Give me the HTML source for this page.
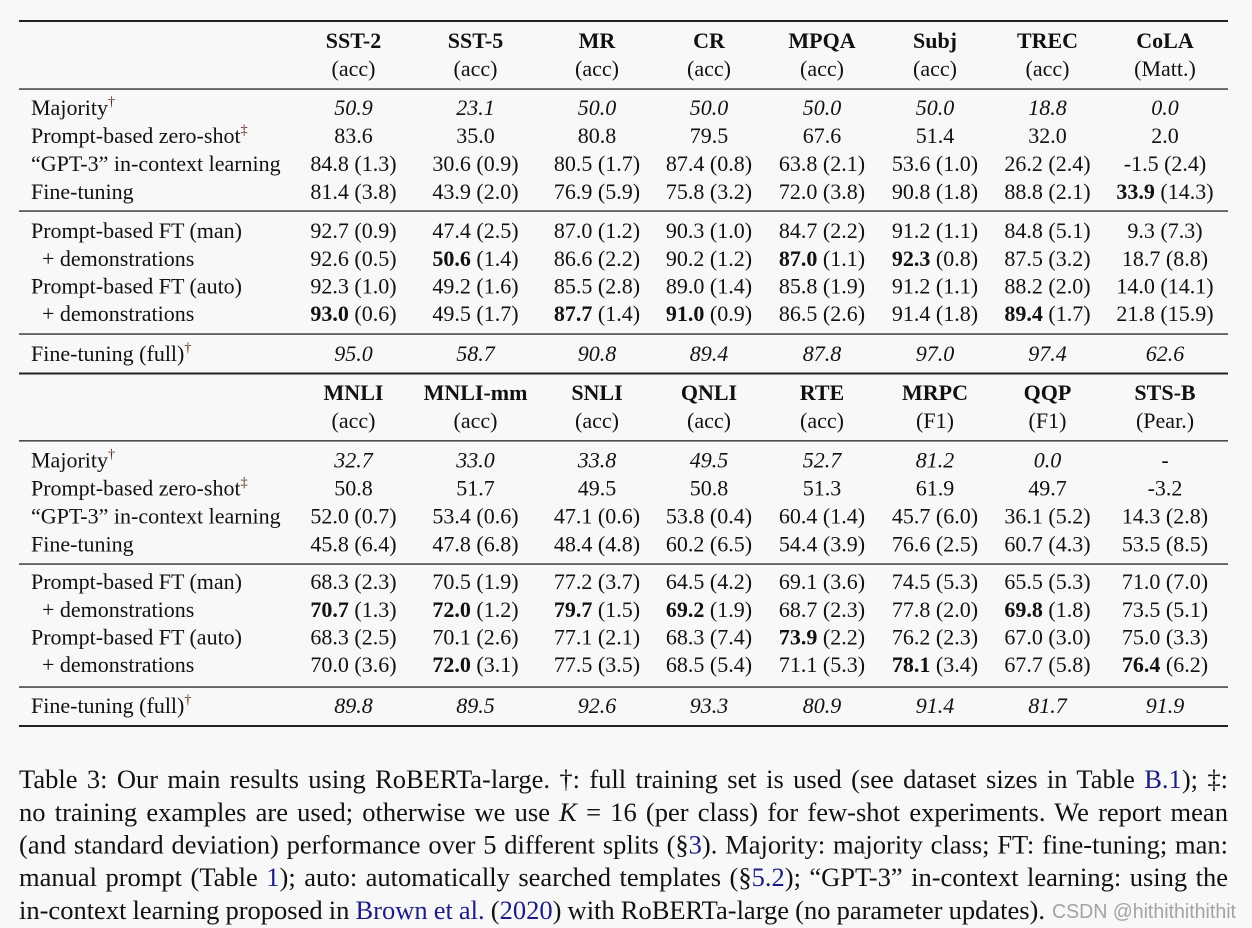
<!DOCTYPE html>
<html>
<head>
<meta charset="utf-8">
<style>
  html,body{margin:0;padding:0;background:#f8f8f8;}
  svg{display:block;}
  .t{font-family:"Liberation Serif","Times New Roman",serif;font-size:22px;fill:#111;}
  .c{font-family:"Liberation Serif","Times New Roman",serif;font-size:26.5px;fill:#111;}
  .lk{fill:#1c1c86;}
  .dg{fill:#5a2018;}
</style>
</head>
<body>
<svg width="1252" height="928" viewBox="0 0 1252 928" xmlns="http://www.w3.org/2000/svg">
<rect x="0" y="0" width="1252" height="928" fill="#f8f8f8"/>

<!-- rules -->
<g fill="#222">
<rect x="19" y="20" width="1209" height="2"/>
<rect x="19" y="88.4" width="1209" height="1.3"/>
<rect x="19" y="210.4" width="1209" height="1.3"/>
<rect x="19" y="333.4" width="1209" height="1.3"/>
<rect x="19" y="372.5" width="1209" height="2"/>
<rect x="19" y="440.2" width="1209" height="1.3"/>
<rect x="19" y="563.4" width="1209" height="1.3"/>
<rect x="19" y="686.4" width="1209" height="1.3"/>
<rect x="19" y="725" width="1209" height="2"/>
</g>

<g class="t">
<!-- ===== Section 1 header ===== -->
<g text-anchor="middle" font-weight="bold">
<text x="353.5" y="48">SST-2</text><text x="475.5" y="48">SST-5</text><text x="597" y="48">MR</text><text x="709" y="48">CR</text><text x="822" y="48">MPQA</text><text x="935" y="48">Subj</text><text x="1047.5" y="48">TREC</text><text x="1165" y="48">CoLA</text>
</g>
<g text-anchor="middle">
<text x="353.5" y="76">(acc)</text><text x="475.5" y="76">(acc)</text><text x="597" y="76">(acc)</text><text x="709" y="76">(acc)</text><text x="822" y="76">(acc)</text><text x="935" y="76">(acc)</text><text x="1047.5" y="76">(acc)</text><text x="1165" y="76">(Matt.)</text>
</g>

<!-- Section 1 labels -->
<text x="31" y="115">Majority<tspan class="dg" font-size="14" dy="-9">†</tspan></text>
<text x="31" y="143">Prompt-based zero-shot<tspan class="dg" font-size="14" dy="-9">‡</tspan></text>
<text x="31" y="171">“GPT-3” in-context learning</text>
<text x="31" y="199">Fine-tuning</text>
<text x="31" y="238">Prompt-based FT (man)</text>
<text x="42" y="266">+ demonstrations</text>
<text x="31" y="293.5">Prompt-based FT (auto)</text>
<text x="42" y="321">+ demonstrations</text>
<text x="31" y="361">Fine-tuning (full)<tspan class="dg" font-size="14" dy="-9">†</tspan></text>

<g text-anchor="middle">
<g font-style="italic">
<text x="353.5" y="115">50.9</text><text x="475.5" y="115">23.1</text><text x="597" y="115">50.0</text><text x="709" y="115">50.0</text><text x="822" y="115">50.0</text><text x="935" y="115">50.0</text><text x="1047.5" y="115">18.8</text><text x="1165" y="115">0.0</text>
</g>
<text x="353.5" y="143">83.6</text><text x="475.5" y="143">35.0</text><text x="597" y="143">80.8</text><text x="709" y="143">79.5</text><text x="822" y="143">67.6</text><text x="935" y="143">51.4</text><text x="1047.5" y="143">32.0</text><text x="1165" y="143">2.0</text>

<text x="353.5" y="171">84.8 (1.3)</text><text x="475.5" y="171">30.6 (0.9)</text><text x="597" y="171">80.5 (1.7)</text><text x="709" y="171">87.4 (0.8)</text><text x="822" y="171">63.8 (2.1)</text><text x="935" y="171">53.6 (1.0)</text><text x="1047.5" y="171">26.2 (2.4)</text><text x="1165" y="171">-1.5 (2.4)</text>

<text x="353.5" y="199">81.4 (3.8)</text><text x="475.5" y="199">43.9 (2.0)</text><text x="597" y="199">76.9 (5.9)</text><text x="709" y="199">75.8 (3.2)</text><text x="822" y="199">72.0 (3.8)</text><text x="935" y="199">90.8 (1.8)</text><text x="1047.5" y="199">88.8 (2.1)</text><text x="1165" y="199"><tspan font-weight="bold">33.9</tspan> (14.3)</text>

<text x="353.5" y="238">92.7 (0.9)</text><text x="475.5" y="238">47.4 (2.5)</text><text x="597" y="238">87.0 (1.2)</text><text x="709" y="238">90.3 (1.0)</text><text x="822" y="238">84.7 (2.2)</text><text x="935" y="238">91.2 (1.1)</text><text x="1047.5" y="238">84.8 (5.1)</text><text x="1165" y="238">9.3 (7.3)</text>

<text x="353.5" y="266">92.6 (0.5)</text><text x="475.5" y="266"><tspan font-weight="bold">50.6</tspan> (1.4)</text><text x="597" y="266">86.6 (2.2)</text><text x="709" y="266">90.2 (1.2)</text><text x="822" y="266"><tspan font-weight="bold">87.0</tspan> (1.1)</text><text x="935" y="266"><tspan font-weight="bold">92.3</tspan> (0.8)</text><text x="1047.5" y="266">87.5 (3.2)</text><text x="1165" y="266">18.7 (8.8)</text>

<text x="353.5" y="293.5">92.3 (1.0)</text><text x="475.5" y="293.5">49.2 (1.6)</text><text x="597" y="293.5">85.5 (2.8)</text><text x="709" y="293.5">89.0 (1.4)</text><text x="822" y="293.5">85.8 (1.9)</text><text x="935" y="293.5">91.2 (1.1)</text><text x="1047.5" y="293.5">88.2 (2.0)</text><text x="1165" y="293.5">14.0 (14.1)</text>

<text x="353.5" y="321"><tspan font-weight="bold">93.0</tspan> (0.6)</text><text x="475.5" y="321">49.5 (1.7)</text><text x="597" y="321"><tspan font-weight="bold">87.7</tspan> (1.4)</text><text x="709" y="321"><tspan font-weight="bold">91.0</tspan> (0.9)</text><text x="822" y="321">86.5 (2.6)</text><text x="935" y="321">91.4 (1.8)</text><text x="1047.5" y="321"><tspan font-weight="bold">89.4</tspan> (1.7)</text><text x="1165" y="321">21.8 (15.9)</text>

<g font-style="italic">
<text x="353.5" y="361">95.0</text><text x="475.5" y="361">58.7</text><text x="597" y="361">90.8</text><text x="709" y="361">89.4</text><text x="822" y="361">87.8</text><text x="935" y="361">97.0</text><text x="1047.5" y="361">97.4</text><text x="1165" y="361">62.6</text>
</g>
</g>

<!-- ===== Section 2 header ===== -->
<g text-anchor="middle" font-weight="bold">
<text x="353.5" y="400">MNLI</text><text x="475.5" y="400">MNLI-mm</text><text x="597" y="400">SNLI</text><text x="709" y="400">QNLI</text><text x="822" y="400">RTE</text><text x="935" y="400">MRPC</text><text x="1047.5" y="400">QQP</text><text x="1165" y="400">STS-B</text>
</g>
<g text-anchor="middle">
<text x="353.5" y="428">(acc)</text><text x="475.5" y="428">(acc)</text><text x="597" y="428">(acc)</text><text x="709" y="428">(acc)</text><text x="822" y="428">(acc)</text><text x="935" y="428">(F1)</text><text x="1047.5" y="428">(F1)</text><text x="1165" y="428">(Pear.)</text>
</g>

<!-- Section 2 labels -->
<text x="31" y="467.5">Majority<tspan class="dg" font-size="14" dy="-9">†</tspan></text>
<text x="31" y="495.5">Prompt-based zero-shot<tspan class="dg" font-size="14" dy="-9">‡</tspan></text>
<text x="31" y="523.5">“GPT-3” in-context learning</text>
<text x="31" y="551.5">Fine-tuning</text>
<text x="31" y="589">Prompt-based FT (man)</text>
<text x="42" y="617">+ demonstrations</text>
<text x="31" y="644.5">Prompt-based FT (auto)</text>
<text x="42" y="672">+ demonstrations</text>
<text x="31" y="713">Fine-tuning (full)<tspan class="dg" font-size="14" dy="-9">†</tspan></text>

<g text-anchor="middle">
<g font-style="italic">
<text x="353.5" y="467.5">32.7</text><text x="475.5" y="467.5">33.0</text><text x="597" y="467.5">33.8</text><text x="709" y="467.5">49.5</text><text x="822" y="467.5">52.7</text><text x="935" y="467.5">81.2</text><text x="1047.5" y="467.5">0.0</text>
</g>
<text x="1165" y="467.5">-</text>
<text x="353.5" y="495.5">50.8</text><text x="475.5" y="495.5">51.7</text><text x="597" y="495.5">49.5</text><text x="709" y="495.5">50.8</text><text x="822" y="495.5">51.3</text><text x="935" y="495.5">61.9</text><text x="1047.5" y="495.5">49.7</text><text x="1165" y="495.5">-3.2</text>

<text x="353.5" y="523.5">52.0 (0.7)</text><text x="475.5" y="523.5">53.4 (0.6)</text><text x="597" y="523.5">47.1 (0.6)</text><text x="709" y="523.5">53.8 (0.4)</text><text x="822" y="523.5">60.4 (1.4)</text><text x="935" y="523.5">45.7 (6.0)</text><text x="1047.5" y="523.5">36.1 (5.2)</text><text x="1165" y="523.5">14.3 (2.8)</text>

<text x="353.5" y="551.5">45.8 (6.4)</text><text x="475.5" y="551.5">47.8 (6.8)</text><text x="597" y="551.5">48.4 (4.8)</text><text x="709" y="551.5">60.2 (6.5)</text><text x="822" y="551.5">54.4 (3.9)</text><text x="935" y="551.5">76.6 (2.5)</text><text x="1047.5" y="551.5">60.7 (4.3)</text><text x="1165" y="551.5">53.5 (8.5)</text>

<text x="353.5" y="589">68.3 (2.3)</text><text x="475.5" y="589">70.5 (1.9)</text><text x="597" y="589">77.2 (3.7)</text><text x="709" y="589">64.5 (4.2)</text><text x="822" y="589">69.1 (3.6)</text><text x="935" y="589">74.5 (5.3)</text><text x="1047.5" y="589">65.5 (5.3)</text><text x="1165" y="589">71.0 (7.0)</text>

<text x="353.5" y="617"><tspan font-weight="bold">70.7</tspan> (1.3)</text><text x="475.5" y="617"><tspan font-weight="bold">72.0</tspan> (1.2)</text><text x="597" y="617"><tspan font-weight="bold">79.7</tspan> (1.5)</text><text x="709" y="617"><tspan font-weight="bold">69.2</tspan> (1.9)</text><text x="822" y="617">68.7 (2.3)</text><text x="935" y="617">77.8 (2.0)</text><text x="1047.5" y="617"><tspan font-weight="bold">69.8</tspan> (1.8)</text><text x="1165" y="617">73.5 (5.1)</text>

<text x="353.5" y="644.5">68.3 (2.5)</text><text x="475.5" y="644.5">70.1 (2.6)</text><text x="597" y="644.5">77.1 (2.1)</text><text x="709" y="644.5">68.3 (7.4)</text><text x="822" y="644.5"><tspan font-weight="bold">73.9</tspan> (2.2)</text><text x="935" y="644.5">76.2 (2.3)</text><text x="1047.5" y="644.5">67.0 (3.0)</text><text x="1165" y="644.5">75.0 (3.3)</text>

<text x="353.5" y="672">70.0 (3.6)</text><text x="475.5" y="672"><tspan font-weight="bold">72.0</tspan> (3.1)</text><text x="597" y="672">77.5 (3.5)</text><text x="709" y="672">68.5 (5.4)</text><text x="822" y="672">71.1 (5.3)</text><text x="935" y="672"><tspan font-weight="bold">78.1</tspan> (3.4)</text><text x="1047.5" y="672">67.7 (5.8)</text><text x="1165" y="672"><tspan font-weight="bold">76.4</tspan> (6.2)</text>

<g font-style="italic">
<text x="353.5" y="713">89.8</text><text x="475.5" y="713">89.5</text><text x="597" y="713">92.6</text><text x="709" y="713">93.3</text><text x="822" y="713">80.9</text><text x="935" y="713">91.4</text><text x="1047.5" y="713">81.7</text><text x="1165" y="713">91.9</text>
</g>
</g>
</g>

<!-- ===== Caption ===== -->
<g class="c">
<text class="jl" x="19" y="788" textLength="1209" lengthAdjust="spacing">Table 3: Our main results using RoBERTa-large. †: full training set is used (see dataset sizes in Table <tspan class="lk">B.1</tspan>); ‡:</text>
<text class="jl" x="19" y="820.8" textLength="1209" lengthAdjust="spacing">no training examples are used; otherwise we use <tspan font-style="italic">K</tspan> = 16 (per class) for few-shot experiments. We report mean</text>
<text class="jl" x="19" y="853.5" textLength="1209" lengthAdjust="spacing">(and standard deviation) performance over 5 different splits (§<tspan class="lk">3</tspan>). Majority: majority class; FT: fine-tuning; man:</text>
<text class="jl" x="19" y="886.2" textLength="1209" lengthAdjust="spacing">manual prompt (Table <tspan class="lk">1</tspan>); auto: automatically searched templates (§<tspan class="lk">5.2</tspan>); “GPT-3” in-context learning: using the</text>
<text class="jl" x="19" y="919" textLength="1026" lengthAdjust="spacing">in-context learning proposed in <tspan class="lk">Brown et al.</tspan> (<tspan class="lk">2020</tspan>) with RoBERTa-large (no parameter updates).</text>
</g>
<text x="1052" y="918" font-family="'Liberation Sans','DejaVu Sans',sans-serif" font-size="20" fill="#a3a3a3" textLength="184" lengthAdjust="spacingAndGlyphs">CSDN @hithithithithit</text>
</svg>
<script>
(function(){
  var els = document.querySelectorAll('text.jl');
  for (var i=0;i<els.length;i++){
    var t = els[i];
    var target = parseFloat(t.getAttribute('textLength'));
    t.removeAttribute('textLength');
    t.removeAttribute('lengthAdjust');
    var w = t.getComputedTextLength();
    var n = (t.textContent.match(/ /g)||[]).length;
    var ws = n>0 ? (target - w)/n : 0;
    if (ws < -4 || ws > 14){
      t.setAttribute('textLength', target);
      t.setAttribute('lengthAdjust', 'spacingAndGlyphs');
    } else {
      t.style.wordSpacing = ws.toFixed(2) + 'px';
    }
  }
})();
</script>
</body>
</html>
